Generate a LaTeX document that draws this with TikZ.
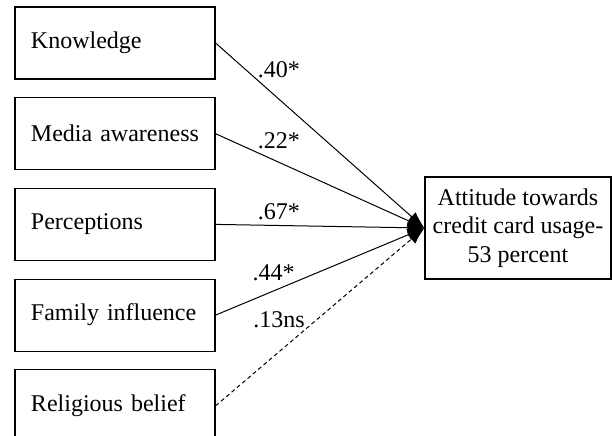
\documentclass[tikz,border=0pt]{standalone}
\usepackage{fontspec}
\setmainfont{Liberation Serif}
\usetikzlibrary{arrows.meta, positioning}
\tikzstyle{factor} = [rectangle, 
draw=black, line width=0.6pt, 
minimum height=36pt, text width=84pt, 
inner xsep=8pt, align=left, 
font=\fontsize{12}{14.25}\selectfont]
\tikzstyle{outcome} = [rectangle, 
draw=black, line width=0.6pt, 
minimum width=93pt, minimum height=51pt, 
inner sep=2pt, align=center, 
font=\fontsize{12}{14.25}\selectfont]
\tikzstyle{link} = [line width=0.5pt, -{Latex[length=8.5pt,width=6pt]}]
\tikzstyle{coef} = [inner sep=0pt, font=\fontsize{12}{14.25}\selectfont]

\begin{document}
\begin{tikzpicture}[x=0.5pt, y=-0.5pt]
        \useasboundingbox (0,0) rectangle (612,435);

        % predictors
        \node[factor] (know) at (115,43) {Knowledge};
        \node[factor, below=8.75pt of know] (media) {Media awareness};
        \node[factor, below=8.75pt of media] (perc) {Perceptions};
        \node[factor, below=8.75pt of perc] (family) {Family influence};
        \node[factor, below=8.75pt of family] (relig) {Religious belief};

        % outcome
        \node[outcome] (att) at (518,228) {Attitude towards\\credit card usage-\\53 percent};

        % paths
        \draw[link] (know.east) -- (att.west) node[coef, pos=0.2, anchor=base west, yshift=1.5pt] {.40*};
        \draw[link] (media.east) -- (att.west) node[coef, pos=0.2, anchor=base west, yshift=1.8pt] {.22*};
        \draw[link] (perc.east) -- (att.west) node[coef, pos=0.2, anchor=base west, yshift=2.6pt] {.67*};
        \draw[link] (family.east) -- (att.west) node[coef, pos=0.381, anchor=base east, yshift=0.5pt] {.44*};
        \draw[link, dash pattern=on 2pt off 1.5pt] (relig.east) -- (att.west) node[coef, pos=0.4286, anchor=base east, yshift=1pt] {.13ns};

    \end{tikzpicture}
\end{document}
